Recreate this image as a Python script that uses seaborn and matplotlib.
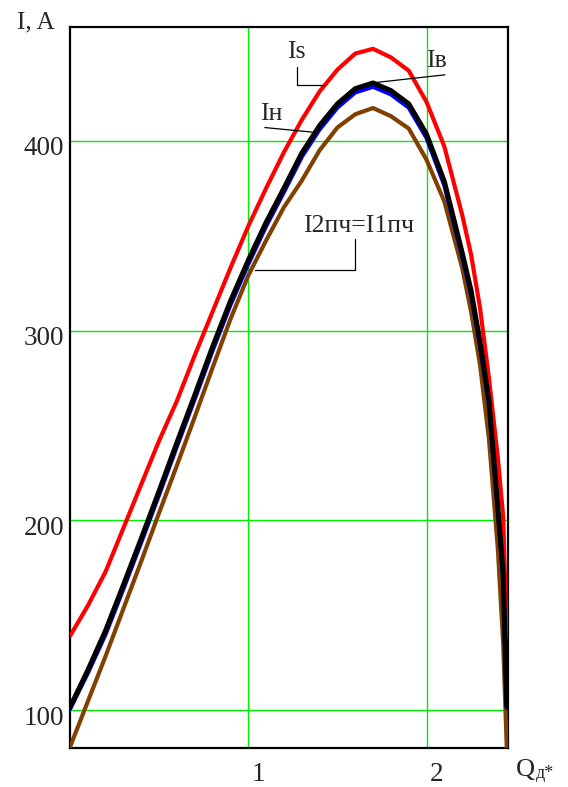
import matplotlib
matplotlib.use("Agg")
import matplotlib.pyplot as plt
import matplotlib.transforms as mtransforms
import numpy as np
import pandas as pd
import seaborn as sns

# Relative reactive load Qд* and the currents, A
q = [0, 0.1, 0.2, 0.3, 0.4, 0.5, 0.6, 0.7, 0.8, 0.9, 1.0, 1.1, 1.2, 1.3, 1.4,
     1.5, 1.6, 1.7, 1.8, 1.9, 2.0, 2.1, 2.2, 2.25, 2.3, 2.35, 2.4, 2.43, 2.45]
i_s = [139, 155, 173, 196, 219, 242, 263, 287, 310, 333, 355, 375, 394, 411, 426,
       437.5, 446, 448.5, 444, 437, 420.5, 397, 361, 340, 312, 275, 233, 202, 139]
i_v = [101.5, 121, 142, 166, 190.5, 215.5, 241, 266, 291.5, 315.5, 337, 357, 375, 393.5, 408,
       419.5, 427.5, 430.5, 426.5, 419.5, 403.5, 378.5, 341, 321, 294, 263, 207, 172, 102]
i_n = [100.5, 119.5, 140, 164, 188.5, 213.5, 239, 264, 289.5, 313.5, 335, 355, 373, 391.5, 406,
       417.5, 425.5, 428.5, 424.5, 417.5, 401.5, 376.5, 339, 319, 292, 261, 205, 170, 101]
i_pch = [80.5, 104.5, 128.5, 153.5, 178.5, 204, 229, 254.5, 280.5, 306, 329, 347.5, 365, 379, 395,
         407, 414, 417.3, 413, 406.5, 390, 368, 333, 310, 282, 243, 185, 135, 80.5]

y_ticks = [100, 200, 300, 400]
x_ticks = [1, 2]
x_tick_labels = ["1", "2"]

sns.set_style("white")
plt.rcParams["font.family"] = ["Liberation Serif", "DejaVu Serif"]

df = pd.DataFrame({
    "Q": q * 4,
    "I": i_s + i_pch + i_n + i_v,
    "curve": ["Is"] * len(q) + ["I2пч"] * len(q) + ["Iн"] * len(q) + ["Iв"] * len(q),
})
styles = {
    "Is": ("#ff0000", 3.0),
    "I2пч": ("#804000", 3.0),
    "Iн": ("#0000ff", 3.0),
    "Iв": ("#000000", 3.6),
}

fig = plt.figure(figsize=(5.68, 7.87), dpi=100)
ax = fig.add_axes([70 / 568, 1 - 748 / 787, 438 / 568, 721 / 787])

for name, (color, lw) in styles.items():
    sns.lineplot(data=df[df["curve"] == name], x="Q", y="I", color=color,
                 linewidth=lw, estimator=None, sort=False, legend=False, ax=ax,
                 zorder=3)

ax.set_xlim(0, 2.457)
ax.set_ylim(80, 460)
ax.set_xticks(x_ticks)
ax.set_yticks(y_ticks)
ax.set_xticklabels([])
ax.set_yticklabels([str(v) for v in y_ticks])
ax.tick_params(axis="both", length=0)
ax.tick_params(axis="y", labelsize=19.5, pad=4)
ax.grid(True, color="#00ee00", linewidth=1.0)
ax.set_xlabel("")
ax.set_ylabel("")
for sp in ax.spines.values():
    sp.set_color("black")
    sp.set_linewidth(1.6)

# shift y tick labels slightly down
shift = mtransforms.ScaledTranslation(0, -5 / 100, fig.dpi_scale_trans)
for lab in ax.get_yticklabels():
    lab.set_transform(lab.get_transform() + shift)

# x tick labels sit to the right of their gridlines
xtrans = mtransforms.blended_transform_factory(ax.transData, ax.transAxes)
for xv, txt in zip(x_ticks, x_tick_labels):
    ax.text(xv + 0.058, -0.046, txt, transform=xtrans, ha="center", va="baseline",
            fontsize=19.5, clip_on=False)

# axis titles
fig.text(17 / 568, 1 - 28 / 787, "I, A", ha="left", va="baseline", fontsize=18)
fig.text(516 / 568, 1 - 776 / 787, "Q", ha="left", va="baseline", fontsize=19)
fig.text(536 / 568, 1 - 778 / 787, "д*", ha="left", va="baseline", fontsize=13)

# curve labels with leader lines
lead = dict(color="black", linewidth=0.9, zorder=4)
ax.text(1.272, 443.9, "Is", ha="center", va="baseline", fontsize=18.5)
ax.plot([1.275, 1.275, 1.424], [439.1, 429.5, 429.5], **lead)

ax.text(1.999, 438.8, "Iв", ha="left", va="baseline", fontsize=18.5)
ax.plot([2.103, 1.682], [434.8, 430.4], **lead)

ax.text(1.065, 411.0, "Iн", ha="left", va="baseline", fontsize=18.5)
ax.plot([1.093, 1.359], [407.0, 404.6], **lead)

ax.text(1.306, 351.9, "I2пч=I1пч", ha="left", va="baseline", fontsize=18.5)
ax.plot([1.598, 1.598, 1.036], [348.4, 332.1, 332.1], **lead)

fig.savefig("out.png", dpi=100)
